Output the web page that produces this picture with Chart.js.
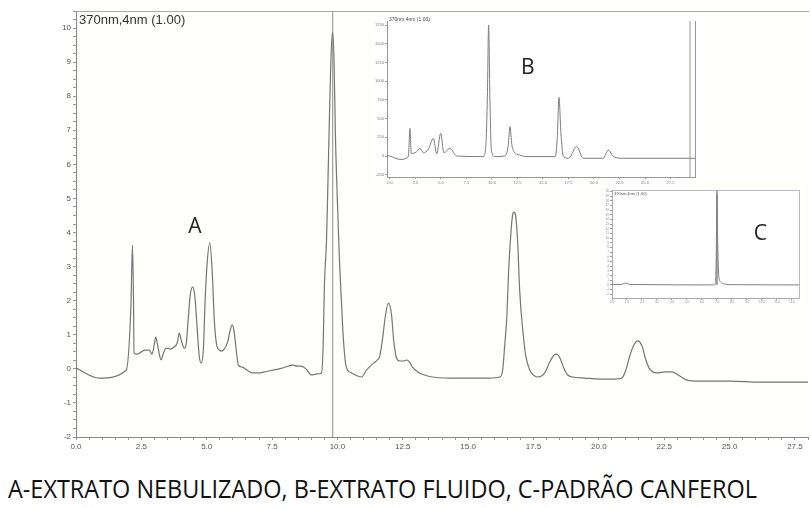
<!DOCTYPE html>
<html><head><meta charset="utf-8">
<script src="https://cdn.jsdelivr.net/npm/chart.js@4/dist/chart.umd.min.js"></script>
<style>
html,body{margin:0;padding:0;background:#fff;}
#wrap{position:relative;width:811px;height:508px;overflow:hidden;background:#fff;}
canvas{position:absolute;}
#main{left:0;top:0;}
#insetB{left:374px;top:14px;background:#fff;}
#insetC{left:600px;top:187px;background:#fff;}
#caption{position:absolute;left:8px;top:472px;font-family:"Open Sans";font-size:25px;color:#111;white-space:nowrap;transform-origin:0 0;line-height:32px;}
</style></head><body>
<div id="wrap">
<canvas id="main" width="811" height="462"></canvas>
<canvas id="insetB" width="326" height="174"></canvas>
<canvas id="insetC" width="202" height="117"></canvas>
<div id="caption">A-EXTRATO NEBULIZADO, B-EXTRATO FLUIDO, C-PADRÃO CANFEROL</div>
</div>
<script>
// ---------- DATA ----------
// Main chromatogram (A - extrato nebulizado), time in min, signal
const mainTimes = [0.00,0.88,1.92,2.10,2.16,2.20,2.22,2.34,2.49,2.64,
2.80,2.91,2.99,3.05,3.12,3.22,3.26,3.33,3.45,3.60,
3.75,3.87,3.95,4.02,4.14,4.21,4.29,4.37,4.46,4.54,
4.64,4.71,4.79,4.87,4.94,5.02,5.12,5.21,5.29,5.38,
5.48,5.56,5.67,5.79,5.90,5.98,6.05,6.13,6.21,6.36,
6.55,6.74,7.01,7.20,7.89,8.28,8.47,8.62,8.81,9.00,
9.23,9.39,9.46,9.50,9.58,9.62,9.69,9.75,9.81,9.87,
9.92,10.00,10.08,10.15,10.23,10.34,10.54,10.77,10.92,11.11,
11.34,11.53,11.61,11.72,11.84,11.95,12.07,12.15,12.26,12.38,
12.53,12.64,12.76,12.87,13.07,13.33,13.64,14.29,15.06,15.82,
16.21,16.32,16.40,16.48,16.55,16.63,16.70,16.76,16.82,16.90,
16.97,17.09,17.20,17.36,17.55,17.66,17.93,18.12,18.28,18.39,
18.51,18.66,18.81,19.00,19.46,20.04,20.61,20.88,21.03,21.19,
21.34,21.49,21.65,21.80,21.95,22.22,22.53,22.80,23.03,23.37,
23.87,25.02,26.16,27.32,28.01];
const mainSignal = [0.02,-0.27,-0.04,1.82,3.63,2.02,0.46,0.43,0.49,0.55,
0.55,0.43,0.70,0.93,0.70,0.32,0.26,0.43,0.61,0.58,
0.64,0.76,1.05,0.85,0.61,0.70,1.43,2.17,2.40,2.17,
1.14,0.40,0.17,0.55,2.02,3.14,3.70,2.85,1.43,0.70,
0.55,0.52,0.58,0.76,1.14,1.29,1.08,0.55,0.11,0.05,
-0.04,-0.12,-0.12,-0.09,0.02,0.11,0.08,0.08,-0.01,-0.18,
-0.15,-0.12,0.85,2.40,3.72,4.89,7.24,9.06,9.88,9.06,
6.94,4.89,3.14,2.02,0.85,0.05,-0.12,-0.21,-0.24,-0.04,
0.14,0.26,0.35,0.85,1.58,1.93,1.58,0.85,0.32,0.23,
0.23,0.26,0.20,0.05,-0.09,-0.18,-0.24,-0.27,-0.27,-0.27,
-0.24,-0.04,0.70,1.52,2.90,3.93,4.51,4.60,4.48,3.63,
2.31,1.14,0.40,-0.04,-0.21,-0.24,-0.12,0.20,0.40,0.43,
0.32,0.02,-0.18,-0.24,-0.27,-0.30,-0.30,-0.27,-0.04,0.40,
0.70,0.82,0.67,0.26,-0.01,-0.12,-0.09,-0.09,-0.18,-0.33,
-0.36,-0.36,-0.39,-0.39,-0.39];
const mainMarkerTime = 9.82;
const mainXTickStep = 2.5;
const mainYTickStep = 1;

// Inset B (extrato fluido)
const bTimes = [-0.29,0.0,0.98,1.8,1.96,2.09,2.61,2.94,3.27,3.76,4.25,4.58,4.97,5.29,5.88,6.54,
9.15,9.41,9.55,9.67,9.8,9.94,10.3,11.27,11.6,11.76,11.95,12.16,12.75,13.4,
16.2,16.4,16.57,16.75,17.0,17.5,18.3,18.95,20.9,21.4,21.9,22.9,29.4,29.9];
const bSignal = [0.02,0.0,-0.18,-0.03,1.48,0.14,0.23,0.41,0.18,0.36,0.94,0.11,1.21,0.18,0.41,0.0,
-0.03,0.68,3.2,7.0,3.0,0.32,-0.03,0.0,0.6,1.57,0.6,0.23,0.05,-0.03,
-0.03,1.0,3.14,1.3,-0.03,-0.12,0.5,-0.12,-0.12,0.32,-0.03,-0.12,-0.12,-0.12];
const bMarkerTime = 29.41;
const bYTickLabels = ['-250','0','250','500','750','1000','1250','1500','1750'];

// Inset C (padrão canferol)
const cTimes = [0,0.6,0.9,1.2,6.8,6.9,6.95,7.0,7.05,7.12,7.25,7.5,8.0,12.47];
const cSignal = [0.1,0.1,0.4,0.1,0.0,0.5,6.0,19.3,9.0,2.0,0.6,0.2,0.05,0.0];
const cMarkerTime = 7.0;

// Texts
const mainTitle = '370nm,4nm (1.00)';
const captionText = 'A-EXTRATO NEBULIZADO, B-EXTRATO FLUIDO, C-PADRÃO CANFEROL';

// ---------- HELPERS ----------
const pts = (xs, ys) => xs.map((x, i) => ({x, y: ys[i]}));
const near = (v, s) => Math.abs(v / s - Math.round(v / s)) < 1e-6;

const textPlugin = {
  id: 'textMarks',
  afterDatasetsDraw(chart, args, opts) {
    const ctx = chart.ctx;
    (opts.items || []).forEach(it => {
      ctx.save();
      ctx.font = it.font;
      ctx.fillStyle = it.color || '#222';
      ctx.textAlign = it.align || 'left';
      ctx.textBaseline = it.baseline || 'alphabetic';
      let x = it.x, y = it.y;
      if (it.dataX !== undefined) {
        x = chart.scales.x.getPixelForValue(it.dataX);
        y = chart.scales.y.getPixelForValue(it.dataY);
      }
      ctx.fillText(it.text, x, y);
      ctx.restore();
    });
  }
};
const bgPlugin = {
  id: 'areaBg',
  beforeDraw(chart, args, opts) {
    if (!opts.color) return;
    const a = chart.chartArea, ctx = chart.ctx;
    ctx.save(); ctx.fillStyle = opts.color;
    ctx.fillRect(a.left, a.top, a.right - a.left, a.bottom - a.top);
    ctx.restore();
  }
};

const lineDs = (data, color, w) => ({data, borderColor: color, borderWidth: w, pointRadius: 0,
  cubicInterpolationMode: 'monotone', fill: false});

// ---------- MAIN CHART ----------
new Chart(document.getElementById('main'), {
  type: 'line',
  data: {datasets: [
    lineDs(pts(mainTimes, mainSignal), '#757575', 1.2),
    {data: [{x: mainMarkerTime, y: -2}, {x: mainMarkerTime, y: 10.5}], borderColor: '#8c8c8c', borderWidth: 1, pointRadius: 0}
  ]},
  plugins: [bgPlugin, textPlugin],
  options: {
    responsive: false, animation: false, devicePixelRatio: 1,
    layout: {padding: {top: 11, right: 3, left: 0, bottom: 0}},
    plugins: {
      legend: {display: false}, tooltip: {enabled: false},
      areaBg: {color: '#fefefb'},
      textMarks: {items: [
        {text: mainTitle, x: 79, y: 24, font: '13px "Liberation Sans"', color: '#333'},
        {text: 'A', dataX: 4.55, dataY: 4.16, font: '21px "Open Sans"', color: '#222', align: 'center', baseline: 'middle'}
      ]}
    },
    scales: {
      x: {type: 'linear', min: 0, max: 28,
        afterFit(s) { s.height = 25; },
        ticks: {stepSize: 0.5, includeBounds: false, autoSkip: false, maxRotation: 0, padding: 2,
          font: {size: 8, family: 'Liberation Sans'}, color: '#555',
          callback: v => near(v, mainXTickStep) ? v.toFixed(1) : ''},
        grid: {drawOnChartArea: false, tickLength: 3, tickColor: '#999'},
        border: {color: '#888'}},
      xTop: {type: 'linear', position: 'top', min: 0, max: 28,
        afterFit(s) { s.height = 0; },
        ticks: {display: false}, grid: {drawOnChartArea: false, drawTicks: false},
        border: {color: '#aaa'}},
      y: {min: -2, max: 10.5,
        afterFit(s) { s.width = 76; },
        ticks: {stepSize: 0.25, includeBounds: false, autoSkip: false, padding: 2,
          font: {size: 8, family: 'Liberation Sans'}, color: '#555',
          callback: v => near(v, mainYTickStep) ? String(Math.round(v)) : ''},
        grid: {drawOnChartArea: false, tickLength: 3, tickColor: '#999'},
        border: {color: '#888'}}
    }
  }
});

// ---------- INSET B ----------
new Chart(document.getElementById('insetB'), {
  type: 'line',
  data: {datasets: [
    lineDs(pts(bTimes, bSignal), '#7c7c7c', 1),
    {data: [{x: bMarkerTime, y: -1.12}, {x: bMarkerTime, y: 7.22}], borderColor: '#999', borderWidth: 1, pointRadius: 0}
  ]},
  plugins: [textPlugin],
  options: {
    responsive: false, animation: false, devicePixelRatio: 1,
    layout: {padding: {top: 7, right: 5, left: 0, bottom: 0}},
    plugins: {
      legend: {display: false}, tooltip: {enabled: false},
      textMarks: {items: [
        {text: mainTitle, x: 15, y: 7, font: '5px "Liberation Sans"', color: '#444'},
        {text: 'B', dataX: 13.5, dataY: 4.7, font: '21px "Open Sans"', color: '#222', align: 'center', baseline: 'middle'}
      ]}
    },
    scales: {
      x: {type: 'linear', min: -0.29, max: 29.9,
        afterFit(s) { s.height = 11; },
        ticks: {stepSize: 2.5, includeBounds: false, autoSkip: false, maxRotation: 0, padding: 1,
          font: {size: 4, family: 'Liberation Sans'}, color: '#777',
          callback: v => v.toFixed(1)},
        grid: {drawOnChartArea: false, tickLength: 2, tickColor: '#999'},
        border: {color: '#999'}},
      y: {min: -1.12, max: 7.22,
        afterFit(s) { s.width = 13; },
        ticks: {stepSize: 1, includeBounds: false, autoSkip: false, padding: 1,
          font: {size: 4, family: 'Liberation Sans'}, color: '#777',
          callback: v => bYTickLabels[Math.round(v) + 1] || ''},
        grid: {drawOnChartArea: false, tickLength: 2, tickColor: '#999'},
        border: {color: '#999'}},
      y2: {position: 'right', min: -1.12, max: 7.22,
        afterFit(s) { s.width = 0; },
        ticks: {display: false}, grid: {drawOnChartArea: false, drawTicks: false},
        border: {color: '#999'}}
    }
  }
});

// ---------- INSET C ----------
new Chart(document.getElementById('insetC'), {
  type: 'line',
  data: {datasets: [
    lineDs(pts(cTimes, cSignal), '#808080', 1),
    {data: [{x: cMarkerTime, y: 20.3}, {x: cMarkerTime, y: 0}], borderColor: '#999', borderWidth: 1, pointRadius: 0}
  ]},
  plugins: [textPlugin],
  options: {
    responsive: false, animation: false, devicePixelRatio: 1,
    layout: {padding: {top: 3, right: 3, left: 0, bottom: 0}},
    plugins: {
      legend: {display: false}, tooltip: {enabled: false},
      textMarks: {items: [
        {text: mainTitle, x: 14, y: 8, font: '4px "Liberation Sans"', color: '#555'},
        {text: 'C', dataX: 9.9, dataY: 10.8, font: '21px "Open Sans"', color: '#222', align: 'center', baseline: 'middle'}
      ]}
    },
    scales: {
      x: {type: 'linear', min: 0, max: 12.47,
        afterFit(s) { s.height = 6; },
        ticks: {stepSize: 1, includeBounds: false, autoSkip: false, maxRotation: 0, padding: 0,
          font: {size: 3, family: 'Liberation Sans'}, color: '#888',
          callback: v => v.toFixed(1)},
        grid: {drawOnChartArea: false, tickLength: 2, tickColor: '#999'},
        border: {color: '#aaa'}},
      xTop: {type: 'linear', position: 'top', min: 0, max: 12.47,
        afterFit(s) { s.height = 0; },
        ticks: {display: false}, grid: {drawOnChartArea: false, drawTicks: false},
        border: {color: '#bbb'}},
      y: {min: -2.8, max: 20.3,
        afterFit(s) { s.width = 12; },
        ticks: {stepSize: 1, includeBounds: false, autoSkip: false, padding: 1,
          font: {size: 3, family: 'Liberation Sans'}, color: '#888',
          callback: v => String(Math.round(v))},
        grid: {drawOnChartArea: false, tickLength: 2, tickColor: '#999'},
        border: {color: '#aaa'}},
      y2: {position: 'right', min: -2.8, max: 20.3,
        afterFit(s) { s.width = 0; },
        ticks: {display: false}, grid: {drawOnChartArea: false, drawTicks: false},
        border: {color: '#bbb'}}
    }
  }
});

// ---------- CAPTION ----------
const cap = document.getElementById('caption');
cap.textContent = captionText;
const w = cap.getBoundingClientRect().width;
cap.style.transform = 'scaleX(' + (749 / w).toFixed(4) + ')';
</script>
</body></html>
